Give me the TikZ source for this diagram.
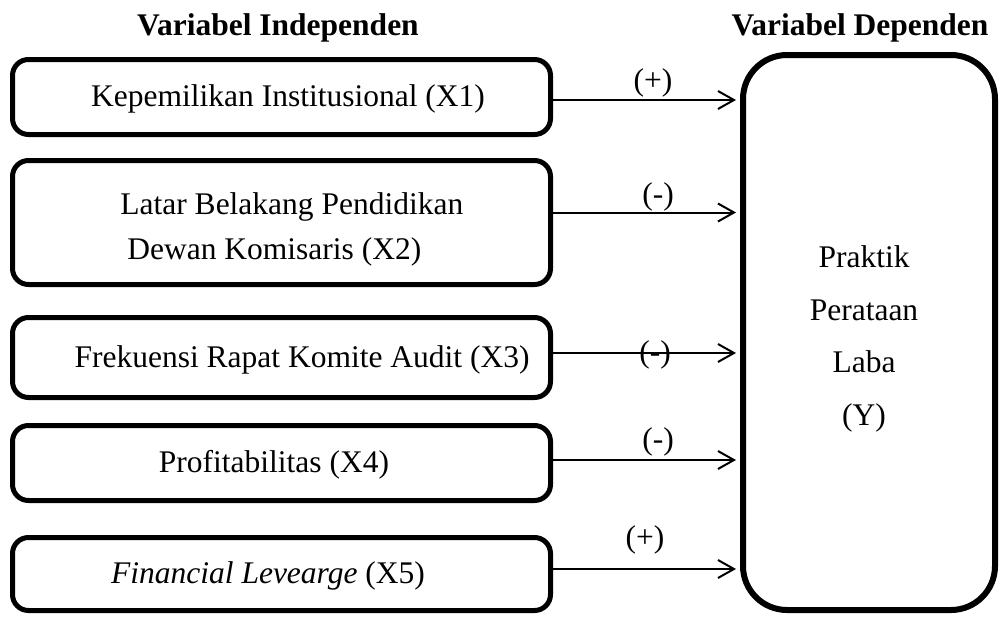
\documentclass[tikz,border=0pt]{standalone}
\usepackage{fontspec}
\setmainfont{Liberation Serif}
\usepackage{tikz}
\usetikzlibrary{arrows.meta}
\tikzset{
  varbox/.style={draw, line width=2.5pt, rounded corners=8pt, minimum width=269pt},
  depbox/.style={draw, line width=3pt, rounded corners=22pt, minimum width=126pt, minimum height=277.5pt},
  lbl/.style={inner sep=0pt, font=\fontsize{15.75}{22.5}\selectfont},
  conn/.style={line width=1pt, -{Straight Barb[length=8pt,width=9pt,line width=1pt]}, shorten >=2pt}
}

\begin{document}
\begin{tikzpicture}[x=0.5pt,y=-0.5pt]
\useasboundingbox (0,0) rectangle (1001,616);

\node[lbl, font=\fontsize{15.75}{22.5}\selectfont\bfseries] (hind) at (278,28) {Variabel Independen};
\node[lbl, font=\fontsize{15.75}{22.5}\selectfont\bfseries] (hdep) at (860,28) {Variabel Dependen};

\node[varbox, minimum height=37.5pt] (x1) at (281.5,97) {};
\node[varbox, minimum height=62pt] (x2) at (281.5,222.5) {};
\node[varbox, minimum height=40pt] (x3) at (281.5,357.5) {};
\node[varbox, minimum height=37.5pt] (x4) at (281.5,463) {};
\node[varbox, minimum height=36.5pt] (x5) at (281.5,574) {};
\node[depbox] (dep) at (869,332.5) {};

\node[lbl] (t1) at (288,99) {Kepemilikan Institusional (X1)};
\node[lbl, align=left, anchor=west] (t2) at (120,229) {Latar Belakang Pendidikan\\[0pt]\hspace*{3.5pt}Dewan Komisaris (X2)};
\node[lbl] (t3) at (302,360) {Frekuensi Rapat Komite Audit (X3)};
\node[lbl] (t4) at (274,465) {Profitabilitas (X4)};
\node[lbl] (t5) at (268,576) {\textit{Financial Levearge} (X5)};
\node[lbl, align=center, font=\fontsize{15.75}{26.3}\selectfont] (ty) at (864,339) {Praktik\\Perataan\\Laba\\(Y)};

\foreach \v/\s in {x1/-1.5, x2/5, x3/2.25, x4/1.5, x5/2.5}{
  \coordinate (a\v) at ([yshift=\s pt]\v.east);
  \draw[conn] (a\v) -- (a\v -| dep.west);
}

\node[lbl] (s1) at (653,83) {(+)};
\node[lbl] (s2) at (658,197) {(-)};
\node[lbl] (s3) at (655,355) {(-)};
\node[lbl] (s4) at (658,442) {(-)};
\node[lbl] (s5) at (645,540) {(+)};
\end{tikzpicture}
\end{document}
